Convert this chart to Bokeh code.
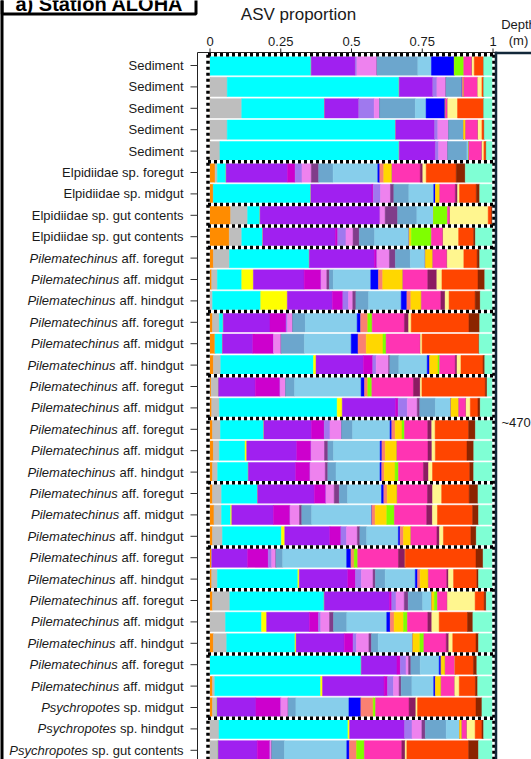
from bokeh.plotting import figure
from bokeh.models import ColumnDataSource, Range1d, Label, BoxAnnotation
from bokeh.core.properties import value
from bokeh.embed import file_html
from bokeh.resources import INLINE

# ---------------- samples, top to bottom ----------------
sample_genus = [""] * 9 + ["Pilematechinus"] * 21 + ["Psychropotes"] * 3
sample_rest = (["Sediment"] * 5
               + ["Elpidiidae sp. foregut", "Elpidiidae sp. midgut",
                  "Elpidiidae sp. gut contents", "Elpidiidae sp. gut contents"]
               + ["aff. foregut", "aff. midgut", "aff. hindgut",
                  "aff. foregut", "aff. midgut", "aff. hindgut",
                  "aff. foregut", "aff. midgut",
                  "aff. foregut", "aff. midgut", "aff. hindgut",
                  "aff. foregut", "aff. midgut", "aff. hindgut",
                  "aff. foregut", "aff. hindgut",
                  "aff. foregut", "aff. midgut", "aff. hindgut",
                  "aff. foregut", "aff. midgut"]
               + ["sp. midgut", "sp. hindgut", "sp. gut contents"])
# samples taken from the same individual / core are boxed together
individual = [1, 1, 1, 1, 1, 2, 2, 3, 4, 5, 5, 5, 6, 6, 6, 7, 7,
              8, 8, 8, 9, 9, 9, 10, 10, 11, 11, 11, 12, 12, 12, 13, 13]

proportion_ticks = [0, 0.25, 0.5, 0.75, 1]
proportion_tick_labels = ["0", "0.25", "0.5", "0.75", "1"]

# ---------------- ASV proportion of each taxon per sample ----------------
tx_orange = [0, 0, 0, 0, 0, .018, .012, .073, .068, .012, .006, 0, .009, .018, .012, .004, .006,
             .009, .012, .009, .009, .014, .009, .006, .006, .009, 0, .012, 0, .009, .009, 0, 0]
tx_grey = [0, .061, .112, .061, .035, .008, 0, .060, .044, .057, .020, .009, .024, 0, .026, .026, .027,
           .028, .021, .018, .032, .027, .035, 0, .020, .061, .055, .047, 0, .008, .016, .032, .029]
tx_cyan = [.357, .607, .292, .595, .633, .031, .344, .044, .074, .282, .086, .170, .014, .026, .327, 0, .415,
           .153, .091, .108, .127, .032, .208, 0, .284, .333, .127, .241, .534, .373, 0, .455, 0]
tx_yellow = [0, 0, 0, 0, 0, 0, 0, 0, 0, 0, .041, .094, 0, 0, .009, 0, .018,
             0, .006, 0, 0, .004, .012, 0, .005, 0, .018, .004, 0, .007, 0, .006, 0]
tx_purple = [.155, .118, .120, .137, .127, .217, .216, .424, .256, .230, .179, .159, .165, .107, .167, .130, .188,
             .168, .177, .167, .200, .147, .159, .127, .171, .230, .151, .170, .126, .217, .137, .193, .138]
tx_magenta = [0, 0, 0, 0, 0, .027, .004, 0, .008, .009, .060, .037, .057, .073, .033, .088, .009,
              .045, .051, .051, .041, .059, .039, .073, .027, .008, .032, .031, .012, .012, .088, 0, .045]
tx_mediumpurple = [.006, .015, .055, .012, .012, .024, .026, 0, .029, 0, 0, .020, .005, 0, .012, 0, .032,
                   .020, 0, 0, 0, 0, .020, .012, .021, .015, .008, .012, .020, .021, 0, .027, 0]
tx_violet = [.071, .032, .019, .038, .032, .033, .035, .018, .025, .044, .020, .015, .018, .027, .044, .019, .035,
             .041, .047, .053, .029, .033, .038, .015, .041, .029, .031, .044, .009, .020, .026, .035, .006]
tx_plum = [0, 0, 0, 0, 0, .026, .012, .044, .022, .021, .009, .011, 0, 0, .004, 0, .009,
           0, .012, .009, .018, .008, .009, 0, .008, .014, .014, .009, .008, .007, 0, .012, 0]
tx_steelblue = [.144, .057, .126, .053, .068, .051, .053, .068, .054, .053, .014, .045, .045, .082, .032, .032, .055,
                .039, .020, .029, .029, .035, .024, .024, .035, .051, .047, .024, .033, .038, .027, .074, .045]
tx_skyblue = [.048, 0, .038, 0, .007, .158, .088, .059, .122, .053, .132, .115, .183, .165, .100, .235, .055,
              .132, .165, .155, .120, .212, .112, .226, .106, .032, .141, .122, .067, .077, .187, .047, .220]
tx_blue = [.081, 0, .068, 0, 0, .007, .006, 0, 0, 0, .027, .020, .012, .024, .009, .012, 0,
           .006, .006, .006, .008, 0, .006, .015, .008, 0, .012, 0, .007, .006, .042, 0, .009]
tx_salmon = [0, .006, 0, 0, 0, .014, 0, 0, 0, 0, .015, .014, .026, .029, 0, .012, 0,
             .012, .012, .009, .012, .012, .012, .012, .009, 0, .014, 0, 0, 0, .044, 0, .026]
tx_gold = [0, 0, 0, .007, 0, .029, .015, 0, .007, .026, .071, .037, 0, .059, .029, 0, .027,
           .024, .041, .038, .035, .041, .026, 0, .029, .009, .033, .025, .014, .020, 0, .008, 0]
tx_chartreuse = [.033, 0, 0, 0, 0, 0, 0, .049, .071, 0, 0, 0, .015, .011, .006, .014, 0,
                 .009, 0, .012, 0, .027, 0, .012, 0, .011, .014, .014, 0, 0, .008, 0, .027]
tx_hotpink = [.029, .049, .008, .044, .046, .100, .055, .009, .041, .051, .088, .069, .114, .121, .055, .147, .026,
              .082, .110, .088, .107, .114, .092, .144, .065, .035, .072, .079, .035, .048, .118, .018, .132]
tx_maroon = [0, 0, 0, 0, 0, .009, .008, 0, 0, 0, .032, .015, .015, 0, .006, .024, 0,
             .014, .014, .018, .018, .020, .009, .024, .006, 0, .014, .009, 0, 0, .024, 0, .012]
tx_khaki = [.008, .015, .035, .014, .007, .012, .007, .135, .055, .059, .018, .014, .009, .006, .014, .006, .015,
            .012, .012, .014, .032, .018, .014, 0, .018, .098, .026, .014, 0, .016, .006, .029, .006]
tx_orangered = [.033, .006, .092, .008, .008, .106, .059, .012, .053, .047, .127, .092, .204, .201, .078, .224, .027,
                .118, .112, .131, .097, .124, .097, .250, .082, .032, .100, .082, .065, .057, .206, .024, .218]
tx_brown = [0, 0, 0, 0, 0, .032, .012, .005, .006, .009, .024, .018, .038, 0, .006, .006, .008,
            .024, .024, .014, .031, .021, .019, .025, .006, .007, .019, .009, .012, .008, .021, .006, .035]
tx_aquamarine = [.033, .033, .033, .031, .024, .098, .047, 0, .062, .047, .029, .045, .047, .049, .029, .021, .045,
                 .062, .068, .068, .053, .051, .059, .035, .051, .024, .071, .051, .057, .054, .039, .033, .051]

taxa = [
    ("orange", tx_orange, "#FF8C00"), ("grey", tx_grey, "#BEBEBE"), ("cyan", tx_cyan, "#00FFFF"),
    ("yellow", tx_yellow, "#FFFF00"), ("purple", tx_purple, "#A020F0"), ("magenta", tx_magenta, "#CD00CD"),
    ("mediumpurple", tx_mediumpurple, "#9F79EE"), ("violet", tx_violet, "#EE82EE"), ("plum", tx_plum, "#803D8A"),
    ("steelblue", tx_steelblue, "#6CA6CD"), ("skyblue", tx_skyblue, "#87CEEB"), ("blue", tx_blue, "#0000FF"),
    ("salmon", tx_salmon, "#FA8072"), ("gold", tx_gold, "#FFD700"), ("chartreuse", tx_chartreuse, "#7FFF00"),
    ("hotpink", tx_hotpink, "#FF34B3"), ("maroon", tx_maroon, "#8B1C62"), ("khaki", tx_khaki, "#FFF68F"),
    ("orangered", tx_orangered, "#FF4500"), ("brown", tx_brown, "#8B2500"), ("aquamarine", tx_aquamarine, "#7FFFD4"),
]

n = len(sample_rest)
rows = list(range(1, n + 1))
totals = [sum(t[1][i] for t in taxa) for i in range(n)]
data = {"y": rows}
for name, vals, _ in taxa:
    data[name] = [v / totals[i] for i, v in enumerate(vals)]
src = ColumnDataSource(data)

# ---------------- page geometry (pixels -> data) ----------------
W, H = 531, 759
X0_PX, X1_PX = 209.5, 492.5          # where proportion 0 and 1 fall
ROW1_PX, ROW_PITCH = 65.0, 21.4       # centre of the first sample row, row spacing
AXIS_X_PX, AXIS_Y_PX = 197, 52        # left axis line, top axis line
SX = X1_PX - X0_PX


def px_x(px):
    return (px - X0_PX) / SX


def px_y(py):
    return 1 + (py - ROW1_PX) / ROW_PITCH


FONT = "Liberation Sans"
TXT = "#1a1a1a"
AX = "#222222"

p = figure(width=W, height=H, output_backend="svg", toolbar_location=None,
           x_range=Range1d(px_x(0), px_x(W)), y_range=Range1d(px_y(H), px_y(0)),
           x_axis_location=None, y_axis_location=None,
           min_border_left=0, min_border_right=0, min_border_top=0, min_border_bottom=0)
p.outline_line_color = None
p.xgrid.visible = False
p.ygrid.visible = False
p.background_fill_color = "white"
p.border_fill_color = "white"

# stacked proportions
p.hbar_stack([t[0] for t in taxa], y="y", height=0.9, color=[t[2] for t in taxa],
             line_width=0.5, source=src)

# dotted boxes around the samples of one individual
breaks = [0.5] + [i + 1.5 for i in range(n - 1) if individual[i] != individual[i + 1]]
bx0, bx1 = px_x(207.5), px_x(493.5)
for col, dash in (("white", "solid"), ("black", "3 3")):
    p.segment(x0=[bx0] * len(breaks), x1=[bx1] * len(breaks), y0=breaks, y1=breaks,
              line_color=col, line_width=3.5, line_dash=dash)
    p.segment(x0=[bx0, bx1], x1=[bx0, bx1], y0=[0.5, 0.5], y1=[n + 1, n + 1],
              line_color=col, line_width=3.5, line_dash=dash)

# ---- proportion axis along the top ----
ax_top = px_y(AXIS_Y_PX)
p.segment(x0=[px_x(AXIS_X_PX)], x1=[px_x(495)], y0=[ax_top], y1=[ax_top], line_color=AX, line_width=1)
p.segment(x0=proportion_ticks, x1=proportion_ticks, y0=[px_y(AXIS_Y_PX - 4)] * 5, y1=[ax_top] * 5,
          line_color=AX, line_width=1)
p.text(x=proportion_ticks, y=[px_y(40.5)] * 5, text=proportion_tick_labels,
       text_align="center", text_baseline="middle", text_font=value(FONT),
       text_font_size="13px", text_color=TXT)

# ---- sample axis on the left ----
ax_left = px_x(AXIS_X_PX)
p.segment(x0=[ax_left], x1=[ax_left], y0=[ax_top], y1=[n + 2], line_color=AX, line_width=1)
p.segment(x0=[px_x(AXIS_X_PX - 7)] * n, x1=[ax_left] * n, y0=rows, y1=rows,
          line_color="#333333", line_width=1)

# Arial / Liberation Sans advance widths (1/1000 em), for placing the italic genus names
ARIAL = {" ": 278, "a": 556, "c": 500, "d": 556, "e": 556, "f": 278, "g": 556, "h": 556,
         "i": 222, "m": 833, "n": 556, "o": 556, "p": 556, "r": 333, "s": 500, "t": 278,
         "u": 556, ".": 278, "E": 667, "l": 222, "S": 667}


def text_w(s, size=13):
    return sum(ARIAL.get(ch, 556) for ch in s) * size / 1000.0


LABEL_R = AXIS_X_PX - 14
p.text(x=[px_x(LABEL_R)] * n, y=rows, text=sample_rest, text_align="right", text_baseline="middle",
       text_font=value(FONT), text_font_size="13px", text_color=TXT)
ital = [r for r in rows if sample_genus[r - 1]]
p.text(x=[px_x(LABEL_R - text_w(" " + sample_rest[r - 1])) for r in ital], y=ital,
       text=[sample_genus[r - 1] for r in ital], text_align="right", text_baseline="middle",
       text_font=value(FONT), text_font_style="italic", text_font_size="13px", text_color=TXT)

# ---- headings ----
p.add_layout(Label(x=px_x(298), y=px_y(14), text="ASV proportion", text_align="center",
                   text_baseline="middle", text_font=FONT, text_font_size="17px", text_color=TXT))
p.add_layout(Label(x=px_x(518), y=px_y(24), text="Depth", text_align="center",
                   text_baseline="middle", text_font=FONT, text_font_size="13px", text_color=TXT))
p.add_layout(Label(x=px_x(518), y=px_y(40), text="(m)", text_align="center",
                   text_baseline="middle", text_font=FONT, text_font_size="13px", text_color=TXT))
p.add_layout(Label(x=px_x(501), y=px_y(422), text="~470", text_align="left",
                   text_baseline="middle", text_font=FONT, text_font_size="13px", text_color=TXT))

# ---- depth bracket ----
NAVY = "#13283a"
p.segment(x0=[px_x(495.5)], x1=[px_x(495.5)], y0=[px_y(51.2)], y1=[n + 2], line_color=NAVY, line_width=2.5)
p.segment(x0=[px_x(494.3)], x1=[px_x(540)], y0=[px_y(52.4)], y1=[px_y(52.4)], line_color=NAVY, line_width=2.5)

# ---- panel frame and title box ----
p.add_layout(BoxAnnotation(left=px_x(-2), right=px_x(3), top=px_y(-20), bottom=px_y(800),
                           fill_color="black", fill_alpha=1, line_color=None))
p.add_layout(BoxAnnotation(left=px_x(1.5), right=px_x(195.5), top=px_y(-20), bottom=px_y(13.5),
                           fill_alpha=0, line_color="black", line_alpha=1, line_width=3))
p.add_layout(Label(x=px_x(15), y=px_y(3), text="a) Station ALOHA", text_align="left",
                   text_baseline="middle", text_font=FONT, text_font_style="bold",
                   text_font_size="20px", text_color="black"))

open("out.html", "w").write(file_html(p, INLINE))
